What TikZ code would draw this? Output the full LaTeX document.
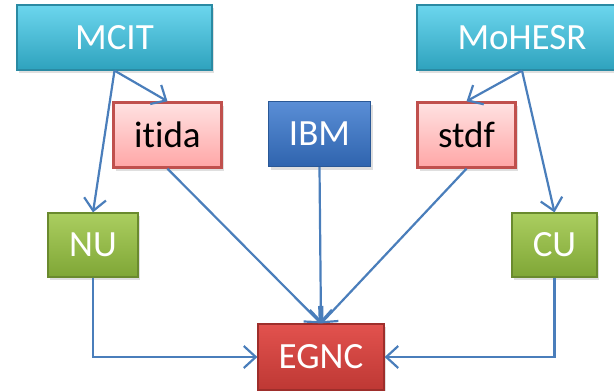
\documentclass[tikz,border=0pt]{standalone}
\usepackage{fontspec}
\setmainfont[Ligatures=NoCommon]{Carlito}
\usepackage{tikz}
\usetikzlibrary{positioning,arrows.meta,shadows}

\definecolor{linkblue}{HTML}{4A7EBB}
\definecolor{cyantop}{HTML}{6CD6EE}
\definecolor{cyanbot}{HTML}{2EA2BD}
\definecolor{cyanline}{HTML}{2A8AA3}
\definecolor{ibmtop}{HTML}{5A8ED6}
\definecolor{ibmbot}{HTML}{2F64AE}
\definecolor{ibmline}{HTML}{2A5896}
\definecolor{pinktop}{HTML}{FFE2E2}
\definecolor{pinkbot}{HTML}{FFA6A6}
\definecolor{pinkline}{HTML}{C0504D}
\definecolor{greentop}{HTML}{ABCE60}
\definecolor{greenbot}{HTML}{7FA636}
\definecolor{greenline}{HTML}{6A8A2E}
\definecolor{redtop}{HTML}{E2524E}
\definecolor{redbot}{HTML}{BE3834}
\definecolor{redline}{HTML}{9E2E2B}

\begin{document}
\begin{tikzpicture}[x=1pt,y=-1pt,
  >={Straight Barb[length=12pt,width=22pt]},
  every node/.append style={font=\fontsize{37}{39}\selectfont,minimum height=65pt,inner sep=0pt},
  link/.style={->,draw=linkblue,line width=2.2pt}]
  \tikzstyle{box} = [rectangle,line width=1.2pt,drop shadow={opacity=0.25,shadow xshift=2pt,shadow yshift=-3pt}]
  \tikzstyle{ministry} = [box,draw=cyanline,top color=cyantop,bottom color=cyanbot,text=white]
  \tikzstyle{agency} = [box,line width=2.4pt,draw=pinkline,top color=pinktop,bottom color=pinkbot,text=black]
  \tikzstyle{company} = [box,draw=ibmline,top color=ibmtop,bottom color=ibmbot,text=white]
  \tikzstyle{univ} = [box,draw=greenline,top color=greentop,bottom color=greenbot,text=white]
  \tikzstyle{centre} = [box,draw=redline,top color=redtop,bottom color=redbot,text=white]
  \useasboundingbox (0,0) rectangle (614,391);
  % top row
  \node (mcit) [ministry,minimum width=195pt] at (114.5,37.5) {MCIT};
  \node (mohesr) [ministry,minimum width=210pt] at (522,37.5) {MoHESR};
  % middle row
  \node (itida) [agency,minimum width=108pt] at (167.5,135) {itida};
  \node (ibm) [company,minimum width=102pt] at (319.5,134) {IBM};
  \node (stdf) [agency,minimum width=98pt] at (466.5,135) {stdf};
  % universities
  \node (nu) [univ,minimum width=90pt,minimum height=64pt] at (93,245) {NU};
  \node (cu) [univ,minimum width=85pt,minimum height=64pt] at (554.5,245) {CU};
  % bottom
  \node (egnc) [centre,minimum width=126pt,minimum height=66pt] at (321,357) {EGNC};
  \draw[link] (mcit.south) -- (itida.north);
  \draw[link] (mcit.south) -- (nu.north);
  \draw[link] (mohesr.south) -- (stdf.north);
  \draw[link] (mohesr.south) -- (cu.north);
  \draw[link] (itida.south) -- (egnc.north);
  \draw[link] (ibm.south) -- (egnc.north);
  \draw[link] (stdf.south) -- (egnc.north);
  \draw[link] (nu.south) |- (egnc.west);
  \draw[link] (cu.south) |- (egnc.east);
\end{tikzpicture}
\end{document}
